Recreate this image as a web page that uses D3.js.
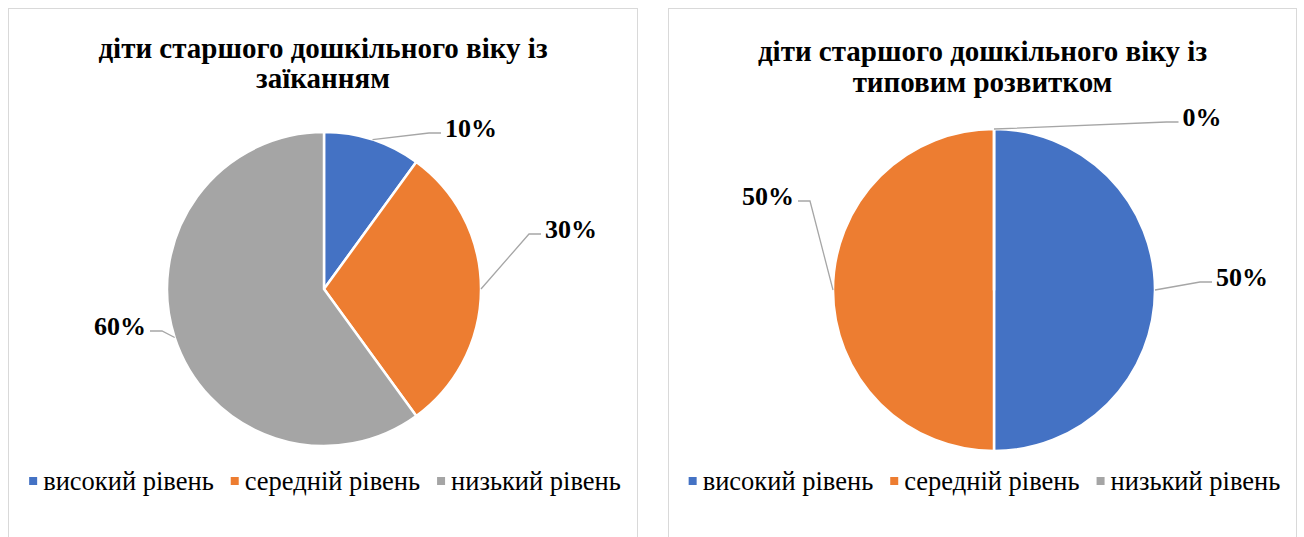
<!DOCTYPE html>
<html>
<head>
<meta charset="utf-8">
<script src="https://cdn.jsdelivr.net/npm/d3@7"></script>
<style>
  body { margin: 0; background: #fff; }
  svg { display: block; }
</style>
</head>
<body>
<svg id="chart" width="1304" height="537"></svg>
<script>
// categories and series values
const categories = ['високий рівень', 'середній рівень', 'низький рівень'];
const stutterValues = [10, 30, 60];
const typicalValues = [50, 50, 0];
const titles = [
  ['діти старшого дошкільного віку із', 'заїканням'],
  ['діти старшого дошкільного віку із', 'типовим розвитком']
];
const colors = ['#4472C4', '#ED7D31', '#A5A5A5'];

// panel layout (positions only)
const panels = [
  {x: 8.5, w: 629, cx: 324, cy: 289, r: 157, titleY: [58, 88],
   labels: [[147, -161], [247, -60], [-204, 37]], values: stutterValues, title: titles[0]},
  {x: 668.5, w: 628, cx: 994, cy: 290, r: 161, titleY: [61, 92],
   labels: [[248, -13], [-226, -94], [208, -173]], values: typicalValues, title: titles[1]}
];

const svg = d3.select('#chart');
const serif = '"Times New Roman", "Liberation Serif", serif';

const pie = d3.pie().sort(null).value(d => d);

panels.forEach(p => {
  const g = svg.append('g');

  // panel border
  g.append('rect')
    .attr('x', p.x).attr('y', 8.5)
    .attr('width', p.w).attr('height', 560)
    .attr('fill', '#fff').attr('stroke', '#D9D9D9').attr('stroke-width', 1);

  const midX = p.x + p.w / 2;

  // title
  g.selectAll('text.title')
    .data(p.title)
    .join('text')
    .attr('class', 'title')
    .attr('x', midX)
    .attr('y', (d, i) => p.titleY[i])
    .attr('text-anchor', 'middle')
    .style('font-family', serif)
    .style('font-weight', 'bold')
    .style('font-size', '29px')
    .text(d => d);

  const arcs = pie(p.values);
  const arc = d3.arc().innerRadius(0).outerRadius(p.r);

  const pg = g.append('g').attr('transform', `translate(${p.cx},${p.cy})`);

  pg.selectAll('path')
    .data(arcs)
    .join('path')
    .attr('d', arc)
    .attr('fill', (d, i) => colors[i])
    .attr('stroke', '#fff')
    .attr('stroke-width', 2.5)
    .attr('stroke-linejoin', 'round');

  // data labels with leader lines
  arcs.forEach((a, i) => {
    const mid = (a.startAngle + a.endAngle) / 2;
    const px = p.r * Math.sin(mid), py = -p.r * Math.cos(mid);
    const [lx, ly] = p.labels[i];
    const t = pg.append('text')
      .attr('x', lx).attr('y', ly)
      .attr('dy', '0.35em')
      .attr('text-anchor', 'middle')
      .style('font-family', serif)
      .style('font-weight', 'bold')
      .style('font-size', '26px')
      .text(p.values[i] + '%');
    const bb = t.node().getBBox();
    const right = lx > px;
    const hx = right ? bb.x - 4 : bb.x + bb.width + 4;
    const hy = ly + 5;
    const ex = right ? hx - 12 : hx + 12;
    pg.append('polyline')
      .attr('points', `${px},${py} ${ex},${hy} ${hx},${hy}`)
      .attr('fill', 'none')
      .attr('stroke', '#A6A6A6')
      .attr('stroke-width', 1.3);
  });

  // legend
  const lg = g.append('g');
  const items = lg.selectAll('g')
    .data(categories)
    .join('g');
  items.append('rect')
    .attr('width', 8).attr('height', 8)
    .attr('y', -13)
    .attr('fill', (d, i) => colors[i]);
  items.append('text')
    .attr('x', 14)
    .style('font-family', serif)
    .style('font-size', '26.5px')
    .text(d => d);
  let off = 0;
  const gap = 17;
  items.each(function() {
    const w = 14 + d3.select(this).select('text').node().getComputedTextLength();
    d3.select(this).attr('transform', `translate(${off},0)`);
    off += w + gap;
  });
  const total = off - gap;
  lg.attr('transform', `translate(${midX - total / 2 + 2},490)`);
});
</script>
</body>
</html>
